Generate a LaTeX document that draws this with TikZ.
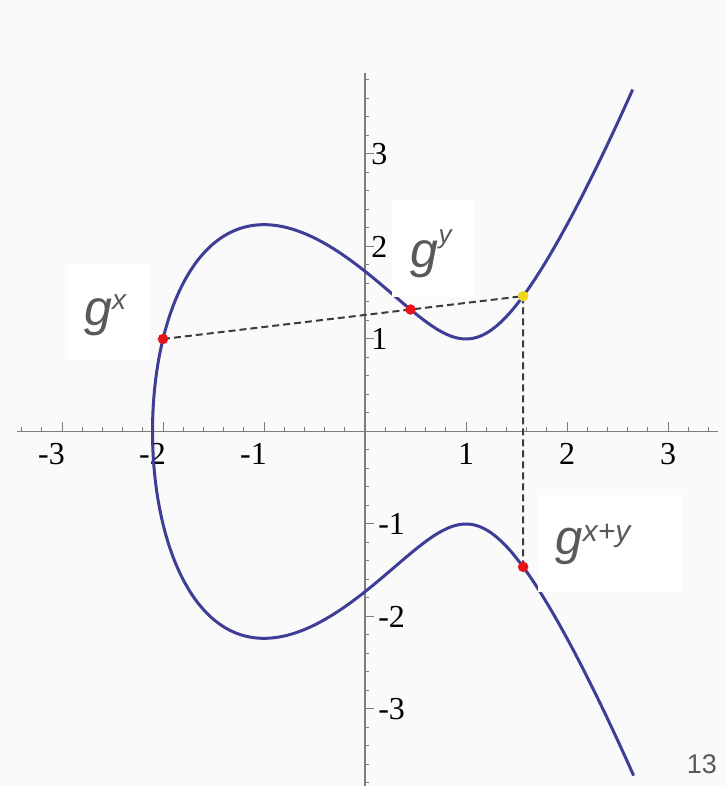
\documentclass[tikz,border=0pt]{standalone}
\usepackage{fontspec}
\setmainfont{Liberation Serif}
\newfontfamily\labfont{Liberation Sans}
\definecolor{curvecol}{RGB}{62,62,150}
\definecolor{axiscol}{RGB}{125,125,125}
\definecolor{bgcol}{RGB}{250,250,250}
\definecolor{labcol}{RGB}{89,89,89}
\definecolor{dotred}{RGB}{232,20,25}
\definecolor{dotyel}{RGB}{235,215,20}
\definecolor{dashcol}{RGB}{60,60,60}
\begin{document}
\begin{tikzpicture}[x=101pt,y=92.5pt,
  curve/.style={draw=curvecol,line width=3pt,line join=round},
  axisline/.style={draw=axiscol,line width=1.3pt},
  tickmark/.style={draw=axiscol,line width=1pt},
  ticklab/.style={font=\fontsize{32}{32}\selectfont,inner sep=0pt,text=black},
  guide/.style={draw=dashcol,line width=2pt,dash pattern=on 7pt off 4pt},
  labbox/.style={fill=white,draw=none},
  gtext/.style={font=\labfont\itshape\fontsize{50}{50}\selectfont,text=labcol,inner sep=0pt},
  ptdot/.style={circle,inner sep=0pt,minimum size=10.5pt,draw=none}]
\useasboundingbox (-365pt,-354.5pt) rectangle (361pt,431.5pt);
\fill[bgcol] (-365pt,-354.5pt) rectangle (361pt,431.5pt);
% axes
\coordinate (xl) at (-3.446,0);
\coordinate (xr) at (3.495,0);
\coordinate (yt) at (0,3.876);
\coordinate (yb) at (0,-3.85);
\draw[axisline] (xl) -- (xr);
\draw[axisline] (yt) -- (yb);
\foreach \i in {-17,...,-1,1,2,...,17} {
  \pgfmathtruncatemacro\r{mod(abs(\i),5)}
  \ifnum\r=0 \def\len{9pt}\else\def\len{4pt}\fi
  \draw[tickmark] (\i*0.2,0) -- ++(0,\len);
}
\foreach \i in {-19,...,-1,1,2,...,19} {
  \pgfmathtruncatemacro\r{mod(abs(\i),5)}
  \ifnum\r=0 \def\len{9pt}\else\def\len{4pt}\fi
  \draw[tickmark] (0,\i*0.2) -- ++(\len,0);
}
% tick labels
\foreach \v in {1,2,3} {
  \node[ticklab,anchor=base] (xlab\v) at (\v,-0.362) {\v};
  \node[ticklab,anchor=west] (ylab\v) at (0.06,\v) {\v};
}
\foreach \v in {1,2,3} {
  \node[ticklab,anchor=base east] (xlabm\v) at (-\v+0.03,-0.362) {-\v};
  \node[ticklab,anchor=west] (ylabm\v) at (0.13,-\v) {-\v};
}
% curve y^2 = x^3 - 3x + 3
\draw[curve] plot[domain=-2.1826:2.1826, samples=260, smooth, variable=\t]
  ({-2.1038+(\t)*(\t)},{(\t)*sqrt((-2.1038+(\t)*(\t))*(-2.1038+(\t)*(\t))-2.1038*(-2.1038+(\t)*(\t))+1.42597)});
% points
\coordinate (P) at (-2,1);
\coordinate (Q) at (0.45098,1.31863);
\coordinate (R) at (1.56592,1.46357);
\coordinate (S) at (1.56592,-1.46357);
\draw[guide] (P) -- (R) -- (S);
% label boxes
\node[labbox,minimum width=81pt,minimum height=96pt,anchor=north west] (bx) at (-2.9406,1.8108) {};
\node[labbox,minimum width=82pt,minimum height=97pt,anchor=north west] (by) at (0.2673,2.5027) {};
\node[labbox,minimum width=143pt,minimum height=97pt,anchor=north west] (bxy) at (1.7129,-0.6865) {};
\node[gtext,anchor=base west] (gx) at (-2.782,1.1405) {g\raisebox{16pt}{\fontsize{28}{28}\selectfont x}};
\node[gtext,anchor=base west] (gy) at (0.4505,1.771) {g\raisebox{24pt}{\fontsize{26}{26}\selectfont y}};
\node[gtext,anchor=base west,font=\labfont\itshape\fontsize{49}{49}\selectfont] (gxy) at (1.886,-1.335) {g\raisebox{13pt}{\fontsize{30}{30}\selectfont x+y}};
% dots
\node[ptdot,fill=dotred] (dP) at (P) {};
\node[ptdot,fill=dotred] (dQ) at (Q) {};
\node[ptdot,fill=dotyel] (dR) at (R) {};
\node[ptdot,fill=dotred] (dS) at (S) {};
% page number
\node[anchor=base east,inner sep=0pt,font=\labfont\fontsize{27}{27}\selectfont,text=labcol] (pg) at (3.485,-3.697) {13};
\end{tikzpicture}
\end{document}
